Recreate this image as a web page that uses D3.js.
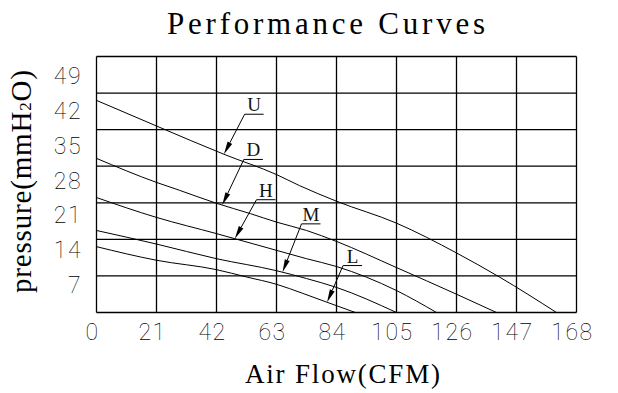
<!DOCTYPE html>
<html>
<head>
<meta charset="utf-8">
<script src="https://cdn.jsdelivr.net/npm/d3@7"></script>
<style>
body { margin: 0; background: #fff; }
</style>
</head>
<body>
<script>
var width = 618,
	height = 393;

// axis ticks
var flowTicks = [0, 21, 42, 63, 84, 105, 126, 147, 168];
var pressureTicks = [7, 14, 21, 28, 35, 42, 49];

// curves: [air flow CFM, pressure mmH2O]
var curveU = [[0, 40.6], [21, 35.7], [45, 30.2], [63, 26.4], [71, 24.3], [84, 21.3], [105, 17.1], [126, 11.4], [141, 6.8], [161, 0]];
var curveD = [[0, 29.5], [21, 24.9], [29, 23.4], [42, 20.9], [54, 18.9], [63, 17.3], [73.5, 15.7], [84, 13.6], [105, 8.6], [126, 3.5], [140, 0]];
var curveH = [[0, 22.0], [21, 18.2], [42, 15.1], [63, 11.9], [73.5, 10.3], [84, 8.8], [105, 4.2], [119, 0]];
var curveM = [[0, 15.7], [21, 13.1], [42, 10.3], [63, 8.0], [73.5, 6.5], [84, 4.8], [105, 0]];
var curveL = [[0, 12.6], [21, 10.0], [42, 8.2], [52.5, 6.8], [63, 5.4], [72, 3.7], [81, 1.9], [90.6, 0]];

var curveNames = ["U", "D", "H", "M", "L"];
var curves = [curveU, curveD, curveH, curveM, curveL];
// flow value where each label arrow touches its curve
var arrowFlow = [44.6, 44.0, 48.4, 65.1, 80.7];

// leader offsets from arrow tip (px)
var leader = {
	U: [20.7, -40], D: [21.6, -45.6], H: [21.7, -39], M: [19, -48.4], L: [16, -36.7]
};

var svg = d3.select("body").append("svg")
	.attr("width", width)
	.attr("height", height)
	.style("font-family", "'Liberation Serif', serif");

var x = d3.scaleLinear().domain([0, 168]).range([96.5, 576.5]);
var y = d3.scaleLinear().domain([0, 49]).range([312.5, 56.5]);
// the tick labels in the source are spaced a little tighter than the grid
var yLabel = d3.scaleLinear().domain([0, 49]).range([319.6, 75.8]);

// grid
var grid = svg.append("g").attr("stroke", "#000").attr("stroke-width", 1.3).attr("fill", "none");
grid.selectAll("line.v").data(flowTicks).enter().append("line")
	.attr("x1", d => x(d)).attr("x2", d => x(d))
	.attr("y1", y(0)).attr("y2", y(49));
grid.selectAll("line.h").data([0].concat(pressureTicks)).enter().append("line")
	.attr("y1", d => y(d)).attr("y2", d => y(d))
	.attr("x1", x(0)).attr("x2", x(168));

// tick labels
var tickFont = "Roboto, 'DejaVu Sans', sans-serif";
svg.append("g").selectAll("text").data(flowTicks).enter().append("text")
	.attr("x", d => x(d) - 4)
	.attr("y", 340)
	.attr("text-anchor", "middle")
	.style("font-family", tickFont)
	.style("font-weight", 100)
	.style("font-size", "23px")
	.style("letter-spacing", "1.5px")
	.text(d => d);

svg.append("g").selectAll("text").data(pressureTicks).enter().append("text")
	.attr("x", 82)
	.attr("y", d => yLabel(d))
	.attr("dy", "0.36em")
	.attr("text-anchor", "end")
	.style("font-family", tickFont)
	.style("font-weight", 100)
	.style("font-size", "23px")
	.style("letter-spacing", "1.5px")
	.text(d => d);

// curves
var line = d3.line()
	.x(d => x(d[0]))
	.y(d => y(d[1]))
	.curve(d3.curveMonotoneX);

svg.append("g").selectAll("path").data(curves).enter().append("path")
	.attr("d", line)
	.attr("fill", "none")
	.attr("stroke", "#000")
	.attr("stroke-width", 1);

// labels with arrows
function valueAt(pts, f) {
	for (var k = 1; k < pts.length; k++) {
		if (f <= pts[k][0]) {
			var t = (f - pts[k - 1][0]) / (pts[k][0] - pts[k - 1][0]);
			return pts[k - 1][1] + t * (pts[k][1] - pts[k - 1][1]);
		}
	}
	return pts[pts.length - 1][1];
}

var notes = svg.append("g");
curveNames.forEach(function(name, i) {
	var tx = x(arrowFlow[i]),
		ty = y(valueAt(curves[i], arrowFlow[i])),
		sx = tx + leader[name][0],
		sy = ty + leader[name][1];
	var ang = Math.atan2(sy - ty, sx - tx),
		len = 13, half = 2.6;
	var bx = tx + len * Math.cos(ang), by = ty + len * Math.sin(ang);
	var px = -Math.sin(ang) * half, py = Math.cos(ang) * half;
	notes.append("line")
		.attr("x1", sx).attr("y1", sy).attr("x2", bx).attr("y2", by)
		.attr("stroke", "#000").attr("stroke-width", 1);
	notes.append("path")
		.attr("d", "M" + tx + "," + ty + "L" + (bx + px) + "," + (by + py) + "L" + (bx - px) + "," + (by - py) + "Z")
		.attr("fill", "#000");
	notes.append("line")
		.attr("x1", sx).attr("y1", sy).attr("x2", sx + 19).attr("y2", sy)
		.attr("stroke", "#000").attr("stroke-width", 1);
	notes.append("text")
		.attr("x", sx + 9.5)
		.attr("y", sy - 3)
		.attr("text-anchor", "middle")
		.style("font-size", "19px")
		.attr("fill", "#111")
		.text(name);
});

// titles
svg.append("text")
	.attr("x", 167).attr("y", 34)
	.attr("textLength", 318).attr("lengthAdjust", "spacing")
	.style("font-size", "31px")
	.text("Performance Curves");

svg.append("text")
	.attr("x", 245).attr("y", 383)
	.attr("textLength", 195).attr("lengthAdjust", "spacing")
	.style("font-size", "27px")
	.text("Air Flow(CFM)");

var yt = svg.append("text")
	.attr("transform", "translate(31,293) rotate(-90)")
	.attr("textLength", 223).attr("lengthAdjust", "spacing")
	.style("font-size", "29px");
yt.append("tspan").text("pressure(mmH");
yt.append("tspan").style("font-size", "17px").text("2");
yt.append("tspan").text("O)");
</script>
</body>
</html>
